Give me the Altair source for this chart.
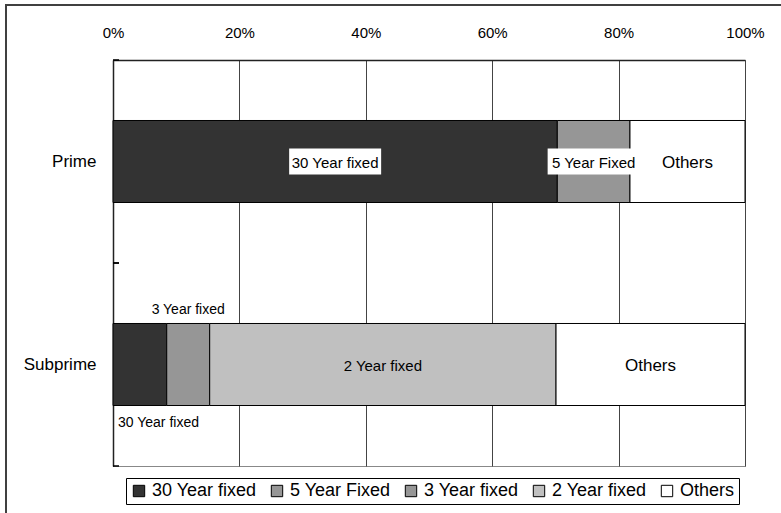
import altair as alt
import pandas as pd

groups = ["Prime", "Subprime"]
categories = ["30 Year fixed", "5 Year Fixed", "3 Year fixed", "2 Year fixed", "Others"]
colors = ["#333333", "#969696", "#969696", "#c0c0c0", "#ffffff"]
prime_cats = ["30 Year fixed", "5 Year Fixed", "Others"]
prime_values = [70.3, 11.5, 18.2]
subprime_cats = ["30 Year fixed", "3 Year fixed", "2 Year fixed", "Others"]
subprime_values = [8.5, 6.8, 54.8, 29.9]

rows = []
for c, v in zip(prime_cats, prime_values):
    rows.append({"group": "Prime", "cat": c, "val": v, "ord": categories.index(c)})
for c, v in zip(subprime_cats, subprime_values):
    rows.append({"group": "Subprime", "cat": c, "val": v, "ord": categories.index(c)})
df = pd.DataFrame(rows)

# segment midpoints for labels
def mids(cats, vals):
    out, acc = {}, 0.0
    for c, v in zip(cats, vals):
        out[c] = acc + v / 2
        acc += v
    return out

pm = mids(prime_cats, prime_values)
sm = mids(subprime_cats, subprime_values)

label_rows = [
    {"group": "Prime", "label": "30 Year fixed", "pos": pm["30 Year fixed"], "where": "in", "box": 1, "fs": 15},
    {"group": "Prime", "label": "5 Year Fixed", "pos": pm["5 Year Fixed"], "where": "in", "box": 1, "fs": 15},
    {"group": "Prime", "label": "Others", "pos": pm["Others"], "where": "in", "box": 0, "fs": 17},
    {"group": "Subprime", "label": "3 Year fixed", "pos": sm["3 Year fixed"], "where": "above", "box": 0, "fs": 15},
    {"group": "Subprime", "label": "2 Year fixed", "pos": sm["2 Year fixed"], "where": "in", "box": 0, "fs": 15},
    {"group": "Subprime", "label": "Others", "pos": sm["Others"], "where": "in", "box": 0, "fs": 17},
]
labels = pd.DataFrame(label_rows)
left_label = pd.DataFrame([{"group": "Subprime", "label": "30 Year fixed", "pos": 0.0}])

FONT = "Liberation Sans"

yenc = alt.Y("group:N", sort=groups, title=None,
             scale=alt.Scale(paddingInner=0, paddingOuter=0),
             axis=alt.Axis(labelFontSize=17, labelPadding=17, ticks=False,
                           domainColor="#222222", domainWidth=1.5, labelColor="#000000"))
ypos = alt.Y("group:N", sort=groups)

xscale = alt.Scale(domain=[0, 100], nice=False)

bars = alt.Chart(df).mark_bar(stroke="#000000", strokeWidth=1,
                              height=alt.RelativeBandSize(0.404)).encode(
    x=alt.X("val:Q", stack="zero", scale=xscale, title=None,
            axis=alt.Axis(orient="top", values=[0, 20, 40, 60, 80, 100],
                          labelExpr="datum.value + '%'", labelFontSize=15,
                          labelFlush=False, labelBound=False, labelOverlap=False,
                          labelPadding=20, ticks=False, grid=True,
                          gridColor="#444444", gridWidth=1,
                          domainColor="#222222", domainWidth=1.5, labelColor="#000000")),
    y=yenc,
    color=alt.Color("cat:N", scale=alt.Scale(domain=categories, range=colors),
                    legend=alt.Legend(title=None, orient="none", direction="horizontal",
                                      legendX=13, legendY=418, labelFontSize=18,
                                      symbolType="square", symbolSize=130,
                                      symbolStrokeColor="#000000", symbolStrokeWidth=1,
                                      strokeColor="#000000", padding=4,
                                      columnPadding=11, labelOffset=4,
                                      labelColor="#000000", labelFont=FONT)),
    order=alt.Order("ord:Q"),
)

box_shape = "M-1,-0.28 L1,-0.28 L1,0.28 L-1,0.28 Z"
boxes = alt.Chart(labels).transform_filter("datum.box == 1").mark_point(
    shape=box_shape, size=8464, filled=True, fill="#ffffff", opacity=1, strokeWidth=0, dy=1
).encode(
    x=alt.X("pos:Q", scale=xscale),
    y=ypos,
)

texts_in = alt.Chart(labels).transform_filter("datum.where == 'in'").mark_text(
    font=FONT, color="#000000", baseline="middle", dy=1).encode(
    x=alt.X("pos:Q", scale=xscale),
    y=ypos,
    text="label:N",
    size=alt.Size("fs:Q", scale=None, legend=None),
)

texts_above = alt.Chart(labels).transform_filter("datum.where == 'above'").mark_text(
    font=FONT, color="#000000", baseline="middle", dy=-55, fontSize=14).encode(
    x=alt.X("pos:Q", scale=xscale),
    y=ypos,
    text="label:N",
)

left_text = alt.Chart(left_label).mark_text(font=FONT, color="#000000", align="left",
                                            baseline="middle", dx=5, dy=58, fontSize=14).encode(
    x=alt.X("pos:Q", scale=xscale),
    y=ypos,
    text="label:N",
)

tick_df = pd.DataFrame({"group": groups})
ticks_top = alt.Chart(tick_df).mark_rule(color="#000000", strokeWidth=1.5).encode(
    x=alt.value(0), x2=alt.value(6),
    y=alt.Y("group:N", sort=groups, bandPosition=0),
)
ticks_bot = alt.Chart(tick_df).mark_rule(color="#000000", strokeWidth=1.5).encode(
    x=alt.value(0), x2=alt.value(6),
    y=alt.Y("group:N", sort=groups, bandPosition=1),
)

frame_left = alt.Chart(tick_df.head(1)).mark_rule(stroke="#404040", strokeWidth=2).encode(
    x=alt.value(-107), y=alt.value(-56), y2=alt.value(453)
)
frame_top = alt.Chart(tick_df.head(1)).mark_rule(stroke="#404040", strokeWidth=2).encode(
    x=alt.value(-108), x2=alt.value(668), y=alt.value(-55)
)

chart = alt.layer(frame_left, frame_top, bars, boxes, texts_in, texts_above, left_text,
                  ticks_top, ticks_bot).properties(
    width=632, height=406,
    padding={"left": 113, "top": 60, "right": 36, "bottom": 47},
    autosize=alt.AutoSizeParams(type="none"),
    background="#ffffff",
).configure_view(stroke="#888888", strokeWidth=1).configure_axis(
    labelFont=FONT
).configure_text(font=FONT)

chart.save("out.html", embed_options={"renderer": "svg", "actions": False})
